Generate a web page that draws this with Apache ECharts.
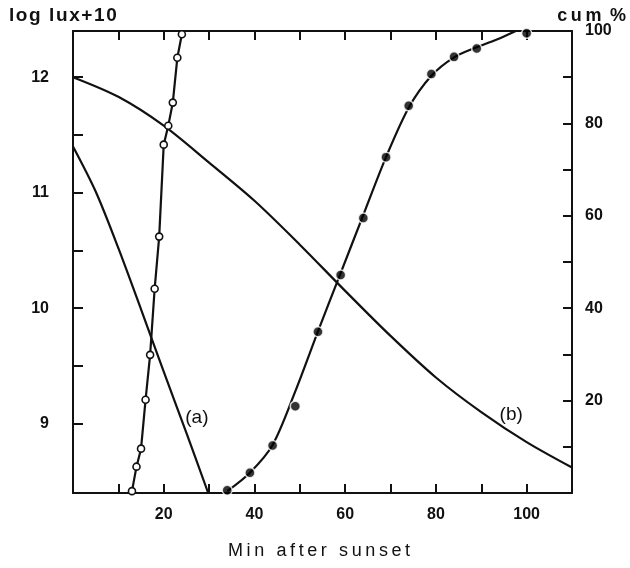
<!DOCTYPE html>
<html>
<head>
<meta charset="utf-8">
<style>
  html, body { margin: 0; padding: 0; background: #fff; }
  #chart { width: 630px; height: 568px; }
</style>
<script src="https://cdn.jsdelivr.net/npm/echarts@6/dist/echarts.min.js"></script>
</head>
<body>
<div id="chart"></div>
<script>
// curve (a): log lux + 10
var minutesA = [0, 5, 10, 15, 20, 25, 29.8];
var luxA = [11.40, 11.01, 10.52, 9.99, 9.45, 8.92, 8.40];

// curve (b): log lux + 10
var minutesB = [0, 10, 20, 30, 40, 50, 60, 70, 80, 90, 100, 110];
var luxB = [12.0, 11.83, 11.58, 11.26, 10.93, 10.55, 10.15, 9.76, 9.40, 9.10, 8.84, 8.62];

// open circles: cum %
var minutesOpen = [13, 14, 15, 16, 17, 18, 19, 20, 21, 22, 23, 24];
var cumOpen = [0.4, 5.7, 9.6, 20.2, 29.9, 44.2, 55.5, 75.4, 79.5, 84.5, 94.2, 99.3];

// filled circles: cum %
var minutesFilled = [34, 39, 44, 49, 54, 59, 64, 69, 74, 79, 84, 89, 100];
var cumFilled = [0.6, 4.4, 10.3, 18.8, 34.9, 47.2, 59.5, 72.7, 83.8, 90.7, 94.4, 96.2, 99.5];

// fitted curve drawn through the filled circles
var minutesFit = [34, 39, 44, 49, 54, 59, 64, 69, 74, 79, 84, 89, 94, 97.6];
var cumFit = [0.4, 4.4, 10.4, 22.0, 35.0, 47.6, 60.2, 72.7, 83.4, 90.3, 94.3, 96.5, 98.4, 100];

// ticks and labels
var xTicks = [0, 10, 20, 30, 40, 50, 60, 70, 80, 90, 100, 110];
var xLabels = [20, 40, 60, 80, 100];
var luxTicks = [9, 9.5, 10, 10.5, 11, 11.5, 12];
var luxLabels = [9, 10, 11, 12];
var cumTicks = [0, 10, 20, 30, 40, 50, 60, 70, 80, 90, 100];
var cumLabels = [20, 40, 60, 80, 100];

function zip(xs, ys) {
    return xs.map(function (x, i) { return [x, ys[i]]; });
}

function spaced(s, sep) {
    return s.split('').join(sep);
}

var ink = '#111';
var font = 'Liberation Sans';

var myChart = echarts.init(document.getElementById('chart'));

var axisBase = {
    type: 'value',
    axisLine: { show: true, onZero: false, lineStyle: { color: ink, width: 2 } },
    axisTick: { show: true, inside: true, length: 9, lineStyle: { color: ink, width: 2 } },
    splitLine: { show: false },
    axisLabel: { color: ink, fontFamily: font, fontWeight: 'bold', fontSize: 16 }
};

function axis(extra) {
    return echarts.util.merge(echarts.util.clone(axisBase), extra, true);
}

var lineStyle = { color: ink, width: 2.2 };

var option = {
    animation: false,
    backgroundColor: '#fff',
    grid: { left: 73, right: 58, top: 31, bottom: 75 },
    xAxis: [
        axis({
            min: 0, max: 110, position: 'bottom',
            axisTick: { customValues: xTicks },
            axisLabel: { customValues: xLabels, margin: 14 }
        }),
        axis({
            min: 0, max: 110, position: 'top',
            axisTick: { customValues: xTicks },
            axisLabel: { show: false }
        })
    ],
    yAxis: [
        axis({
            min: 8.4, max: 12.4, position: 'left',
            axisTick: { customValues: luxTicks, length: 10 },
            axisLabel: { customValues: luxLabels, margin: 24 }
        }),
        axis({
            min: 0, max: 100, position: 'right',
            axisTick: { customValues: cumTicks },
            axisLabel: { customValues: cumLabels, margin: 13 }
        })
    ],
    graphic: [
        {
            type: 'text', left: 9, top: 6,
            style: { text: spaced('log lux+10', '\u200A'), fill: ink, font: 'bold 19px ' + font }
        },
        {
            type: 'text', right: 4, top: 7,
            style: { text: ['c', 'u', 'm', ' %'].join('\u2009'), fill: ink, font: 'bold 18px ' + font }
        },
        {
            type: 'text', left: 228, top: 542,
            style: { text: spaced('Min after sunset', '\u2009'), fill: ink, font: '18px ' + font }
        }
    ],
    series: [
        {
            name: '(a)', type: 'line', xAxisIndex: 0, yAxisIndex: 0,
            data: zip(minutesA, luxA), smooth: 0.3, symbol: 'none',
            lineStyle: lineStyle,
            markPoint: {
                symbol: 'circle', symbolSize: 0,
                label: { show: true, formatter: '(a)', color: ink, fontFamily: font, fontSize: 19 },
                data: [{ coord: [27.3, 9.05] }]
            }
        },
        {
            name: '(b)', type: 'line', xAxisIndex: 0, yAxisIndex: 0,
            data: zip(minutesB, luxB), smooth: 0.3, symbol: 'none',
            lineStyle: lineStyle,
            markPoint: {
                symbol: 'circle', symbolSize: 0,
                label: { show: true, formatter: '(b)', color: ink, fontFamily: font, fontSize: 19 },
                data: [{ coord: [96.6, 9.08] }]
            }
        },
        {
            name: 'open', type: 'line', xAxisIndex: 0, yAxisIndex: 1,
            data: zip(minutesOpen, cumOpen), symbol: 'circle', symbolSize: 7,
            showAllSymbol: true,
            itemStyle: { color: '#fff', borderColor: ink, borderWidth: 1.6 },
            lineStyle: lineStyle
        },
        {
            name: 'fit', type: 'line', xAxisIndex: 0, yAxisIndex: 1,
            data: zip(minutesFit, cumFit), smooth: 0.3, symbol: 'none',
            lineStyle: lineStyle
        },
        {
            name: 'filled', type: 'scatter', xAxisIndex: 0, yAxisIndex: 1,
            data: zip(minutesFilled, cumFilled), symbol: 'circle', symbolSize: 10,
            itemStyle: { color: '#000', borderColor: '#fff', borderWidth: 1.5 },
            z: 3
        }
    ]
};

myChart.setOption(option);
</script>
</body>
</html>
